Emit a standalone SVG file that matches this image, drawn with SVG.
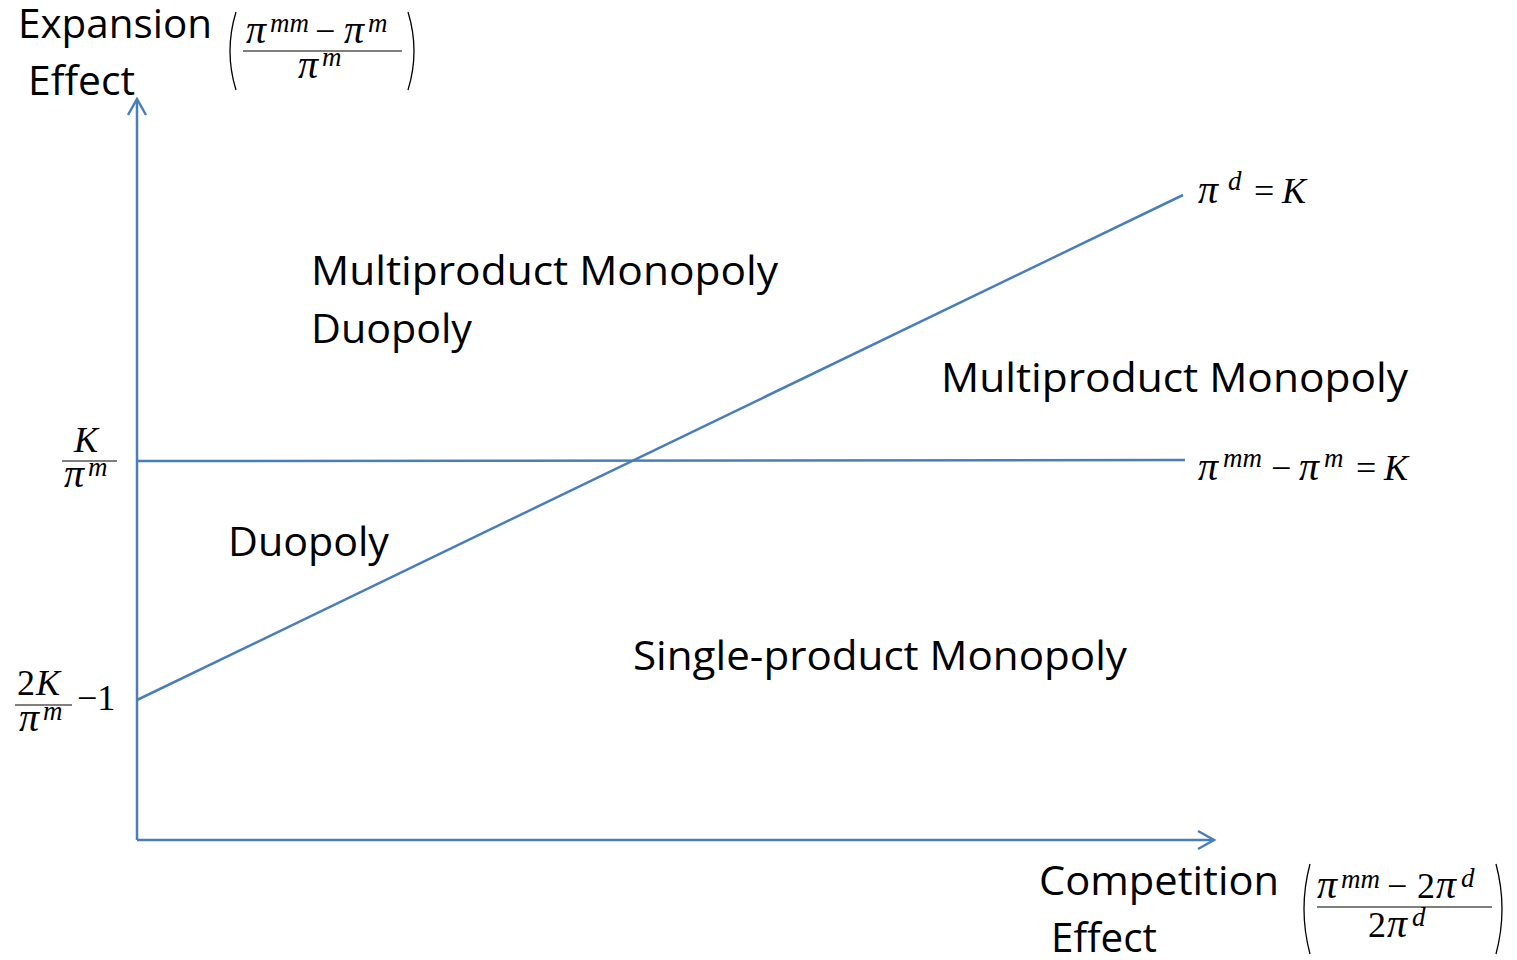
<svg xmlns="http://www.w3.org/2000/svg" width="1517" height="960" viewBox="0 0 1517 960">
<style>
.lbl{font-family:"Open Sans","Noto Sans","Liberation Sans",sans-serif;font-size:40px;fill:#000}
.m{font-family:"Liberation Serif","Times New Roman",serif;font-size:36px;fill:#000}
.i{font-style:italic}
.p{font-style:italic;font-size:40px}
.sup{font-style:italic;font-size:27px}
.ax{stroke:#4A7EBB;stroke-width:2.5;fill:none}
.fr{stroke:#000;stroke-width:1.2;fill:none}
.par{stroke:#000;stroke-width:1.3;fill:none}
</style>
<g id="connectors">
<line class="ax" x1="137" y1="840" x2="137" y2="100"/>
<polyline class="ax" points="128,115 137,99 146,115"/>
<line class="ax" x1="137" y1="840" x2="1214" y2="840"/>
<polyline class="ax" points="1198,831 1214,840 1198,849"/>
<line class="ax" x1="137" y1="461" x2="1185" y2="460"/>
<line class="ax" x1="137" y1="700" x2="1183" y2="195"/>
</g>
<g id="y-axis-label">
<text class="lbl" x="18" y="38" textLength="194" lengthAdjust="spacingAndGlyphs">Expansion</text>
<text class="lbl" x="28" y="95" textLength="107" lengthAdjust="spacingAndGlyphs">Effect</text>
<path class="par" d="M236,12 Q224,51 236,90"/>
<path class="par" d="M408,12 Q420,51 408,90"/>
<text class="m"><tspan class="p" x="246" y="43">π</tspan><tspan class="sup" x="270" y="32">mm</tspan><tspan x="315" y="43">−</tspan><tspan class="p" x="344" y="43">π</tspan><tspan class="sup" x="368" y="32">m</tspan></text>
<line class="fr" x1="243" y1="51" x2="402" y2="51"/>
<text class="m"><tspan class="p" x="298" y="78">π</tspan><tspan class="sup" x="322" y="66">m</tspan></text>
</g>
<g id="x-axis-label">
<text class="lbl" x="1039" y="895" textLength="240" lengthAdjust="spacingAndGlyphs">Competition</text>
<text class="lbl" x="1051" y="952" textLength="106" lengthAdjust="spacingAndGlyphs">Effect</text>
<path class="par" d="M1310,864 Q1298,909 1310,954"/>
<path class="par" d="M1496,864 Q1508,909 1496,954"/>
<text class="m"><tspan class="p" x="1317" y="898">π</tspan><tspan class="sup" x="1341" y="888">mm</tspan><tspan x="1387" y="898">−</tspan><tspan x="1417" y="898">2</tspan><tspan class="p" x="1436" y="898">π</tspan><tspan class="sup" x="1461" y="887">d</tspan></text>
<line class="fr" x1="1317" y1="907" x2="1492" y2="907"/>
<text class="m"><tspan x="1368" y="937">2</tspan><tspan class="p" x="1387" y="937">π</tspan><tspan class="sup" x="1412" y="926">d</tspan></text>
</g>
<g id="tick-k">
<text class="m i" x="74" y="452">K</text>
<line class="fr" x1="62" y1="461" x2="117" y2="461"/>
<text class="m"><tspan class="p" x="64" y="487">π</tspan><tspan class="sup" x="88" y="476">m</tspan></text>
</g>
<g id="tick-2k">
<text class="m"><tspan x="17" y="695">2</tspan><tspan class="i" x="36" y="695">K</tspan></text>
<line class="fr" x1="15" y1="705" x2="72" y2="705"/>
<text class="m"><tspan class="p" x="19" y="731">π</tspan><tspan class="sup" x="43" y="720">m</tspan></text>
<text class="m" x="77" y="710">−1</text>
</g>
<g id="line-label-d">
<text class="m"><tspan class="p" x="1198" y="203">π</tspan><tspan class="sup" x="1228" y="190">d</tspan><tspan x="1254" y="203">=</tspan><tspan class="i" x="1282" y="203">K</tspan></text>
</g>
<g id="line-label-mm">
<text class="m"><tspan class="p" x="1198" y="480">π</tspan><tspan class="sup" x="1223" y="467">mm</tspan><tspan x="1271" y="480">−</tspan><tspan class="p" x="1299" y="480">π</tspan><tspan class="sup" x="1324" y="467">m</tspan><tspan x="1356" y="480">=</tspan><tspan class="i" x="1384" y="480">K</tspan></text>
</g>
<g id="region-top-left">
<text class="lbl" x="311" y="285" textLength="467" lengthAdjust="spacingAndGlyphs">Multiproduct Monopoly</text>
<text class="lbl" x="311" y="343" textLength="161" lengthAdjust="spacingAndGlyphs">Duopoly</text>
</g>
<g id="region-right">
<text class="lbl" x="941" y="392" textLength="467" lengthAdjust="spacingAndGlyphs">Multiproduct Monopoly</text>
</g>
<g id="region-duopoly">
<text class="lbl" x="228" y="556" textLength="161" lengthAdjust="spacingAndGlyphs">Duopoly</text>
</g>
<g id="region-single">
<text class="lbl" x="633" y="670" textLength="494" lengthAdjust="spacingAndGlyphs">Single-product Monopoly</text>
</g>
</svg>
